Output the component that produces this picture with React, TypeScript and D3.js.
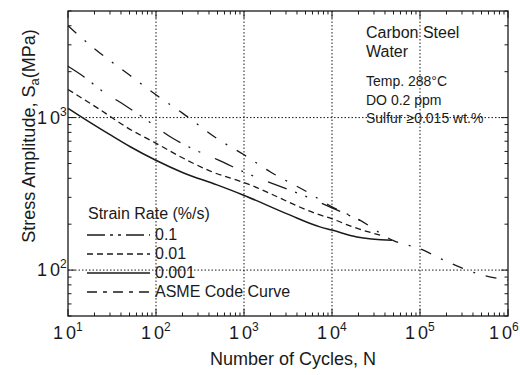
import React from "react";
import * as d3 from "d3";

const asmeN = [10, 20, 50, 100, 200, 500, 1000, 2000, 5000, 1e4, 2e4, 5e4, 1e5, 2e5, 5e5, 1e6];
const asmeS = [4000, 2830, 1900, 1410, 1070, 725, 570, 440, 330, 260, 215, 156, 138, 114, 93, 86];

const rate01N = [10, 15, 25, 40, 70, 150, 260, 500, 1175, 5200, 10000, 24000];
const rate01S = [2170, 1860, 1480, 1250, 1010, 740, 625, 530, 422, 302, 256, 204];

const rate001N = [10, 14, 23, 47, 97, 257, 433, 1000, 7300, 10000, 16000, 37000];
const rate001S = [1530, 1355, 1130, 860, 685, 506, 441, 375, 230, 217, 195, 168];

const rate0001N = [10, 14, 30, 51, 97, 203, 493, 975, 3300, 7300, 10000, 19200, 48000];
const rate0001S = [1150, 1016, 773, 644, 529, 435, 362, 311, 230, 192, 183, 165, 157];

const xDecades = [1, 2, 3, 4, 5, 6];
const yDecades = [2, 3];
const legendLabels = ["0.1", "0.01", "0.001", "ASME Code Curve"];
const noteLines = ["Temp. 288°C", "DO 0.2 ppm", "Sulfur \u22650.015 wt.%"];

const FONT = "'Liberation Sans', Arial, Helvetica, sans-serif";
const INK = "#1a1a1a";

const styles = [
  { dash: "20,9,2,9,2,16", w: 1.3 },
  { dash: "6,4", w: 1.3 },
  { dash: null, w: 1.5 },
  { dash: "11,11,2,11", w: 1.3 },
];

export default function App() {
  const L = 68, R = 508, T = 11, B = 316;
  const x = d3.scaleLog().domain([10, 1e6]).range([L, R]);
  const y = d3.scaleLog().domain([50, 5000]).range([B, T]);

  const line = d3
    .line<[number, number]>()
    .x((d) => x(d[0]))
    .y((d) => y(d[1]))
    .curve(d3.curveMonotoneX);

  const series = [
    rate01N.map((n, i) => [n, rate01S[i]] as [number, number]),
    rate001N.map((n, i) => [n, rate001S[i]] as [number, number]),
    rate0001N.map((n, i) => [n, rate0001S[i]] as [number, number]),
    asmeN.map((n, i) => [n, asmeS[i]] as [number, number]),
  ];

  const xTicks: { v: number; major: boolean }[] = [];
  for (let e = 1; e <= 6; e++) {
    for (let m = 1; m <= 9; m++) {
      const v = m * Math.pow(10, e);
      if (v > 1e6) break;
      xTicks.push({ v, major: m === 1 });
    }
  }
  const yTicks: { v: number; major: boolean }[] = [];
  for (let e = 1; e <= 3; e++) {
    for (let m = 1; m <= 9; m++) {
      const v = m * Math.pow(10, e);
      if (v < 50 || v > 5000) continue;
      yTicks.push({ v, major: m === 1 });
    }
  }

  const legendRows = [240, 259, 278, 297];

  return (
    <svg width={520} height={375} style={{ display: "block", position: "absolute", left: 0, top: 0, background: "#fff" }} fontFamily={FONT}>
      <rect x={0} y={0} width={520} height={375} fill="#fff" />
      {xDecades.filter((e) => e > 1 && e < 6).map((e) => (
        <line key={"gx" + e} x1={x(Math.pow(10, e))} x2={x(Math.pow(10, e))} y1={T} y2={B} stroke={INK} strokeWidth={1} strokeDasharray="1.5,2" />
      ))}
      {yDecades.map((e) => (
        <line key={"gy" + e} x1={L} x2={R} y1={y(Math.pow(10, e))} y2={y(Math.pow(10, e))} stroke={INK} strokeWidth={1} strokeDasharray="1.5,2" />
      ))}
      {xTicks.map((t, i) => {
        const len = t.major ? 7 : 3.5;
        const px = x(t.v);
        return (
          <g key={"xt" + i}>
            <line x1={px} x2={px} y1={B} y2={B - len} stroke={INK} strokeWidth={1} />
            <line x1={px} x2={px} y1={T} y2={T + len} stroke={INK} strokeWidth={1} />
          </g>
        );
      })}
      {yTicks.map((t, i) => {
        const len = t.major ? 7 : 3.5;
        const py = y(t.v);
        return (
          <g key={"yt" + i}>
            <line x1={L} x2={L + len} y1={py} y2={py} stroke={INK} strokeWidth={1} />
            <line x1={R} x2={R - len} y1={py} y2={py} stroke={INK} strokeWidth={1} />
          </g>
        );
      })}
      <rect x={L} y={T} width={R - L} height={B - T} fill="none" stroke={INK} strokeWidth={1.3} />
      {series.map((s, i) => (
        <path key={"s" + i} d={line(s) || ""} fill="none" stroke={INK} strokeWidth={styles[i].w} strokeDasharray={styles[i].dash || undefined} />
      ))}
      {xDecades.map((e) => (
        <text key={"xl" + e} x={x(Math.pow(10, e)) - (e === 6 ? 19 : 15)} y={339} fontSize={18} fill={INK}>
          1<tspan dx={3}>0</tspan>
          <tspan dy={-8} fontSize={12}>{e}</tspan>
        </text>
      ))}
      {yDecades.map((e) => (
        <text key={"yl" + e} x={37} y={y(Math.pow(10, e)) + 6} fontSize={18} fill={INK}>
          1<tspan dx={3}>0</tspan>
          <tspan dy={-8} fontSize={12}>{e}</tspan>
        </text>
      ))}
      <text x={293} y={365} fontSize={18} textAnchor="middle" fill={INK}>Number of Cycles, N</text>
      <text transform={`translate(35,${136}) rotate(-90)`} fontSize={18} textAnchor="middle" fill={INK}>
        Stress Amplitude, S<tspan fontSize={13} dy={4}>a</tspan><tspan dy={-4}>(MPa)</tspan>
      </text>
      <text x={366} y={38} fontSize={16} fill={INK}>Carbon Steel</text>
      <text x={366} y={57} fontSize={16} fill={INK}>Water</text>
      {noteLines.map((t, i) => (
        <text key={"n" + i} x={366} y={86 + i * 18.5} fontSize={14} fill={INK}>{t}</text>
      ))}
      <text x={88} y={219} fontSize={16} fill={INK}>Strain Rate (%/s)</text>
      {legendLabels.map((lab, i) => (
        <g key={"lg" + i}>
          <line x1={87} x2={150} y1={legendRows[i] - 5} y2={legendRows[i] - 5} stroke={INK} strokeWidth={styles[i].w} strokeDasharray={styles[i].dash ? (i === 0 ? "18,5,3,5,3,5" : i === 3 ? "10,6,4,6" : styles[i].dash!) : undefined} />
          <text x={155} y={legendRows[i]} fontSize={16} fill={INK}>{lab}</text>
        </g>
      ))}
    </svg>
  );
}
